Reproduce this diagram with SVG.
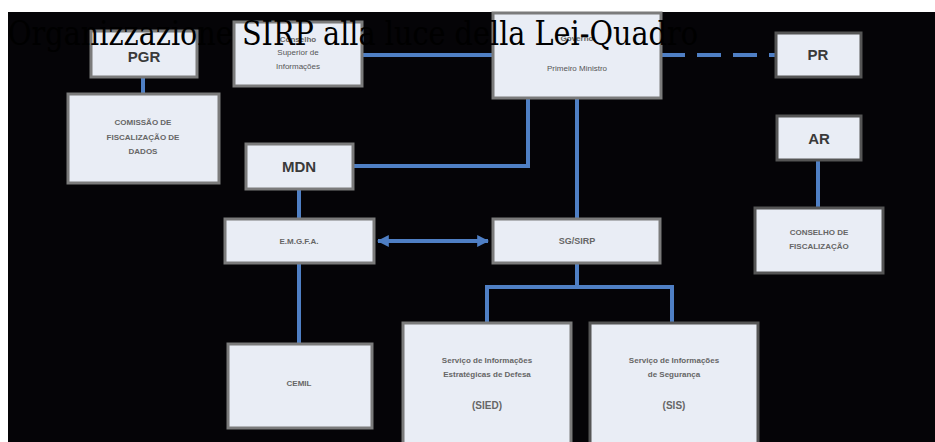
<svg xmlns="http://www.w3.org/2000/svg" width="935" height="442" viewBox="0 0 935 442">
<defs>
<style>
.box{fill:#e9edf5;stroke:#7b7b7b;stroke-width:3}
.boxd{fill:#e9edf5;stroke:#555;stroke-width:3}
.lbl{font-family:"Liberation Sans",Arial,sans-serif;font-size:8px;font-weight:bold;fill:#666;text-anchor:middle}
.big{font-family:"Liberation Sans",Arial,sans-serif;font-size:15px;font-weight:bold;fill:#3a3a3a;text-anchor:middle}
.con{fill:none;stroke:#4f7fc4;stroke-width:4}
.title{font-family:"DejaVu Serif","Liberation Serif",serif;font-size:33px;fill:#000}
</style>
<marker id="ah" viewBox="0 0 10 10" refX="9" refY="5" markerWidth="3" markerHeight="3" orient="auto-start-reverse" markerUnits="strokeWidth">
<path d="M0,0 L10,5 L0,10 z" fill="#4f7fc4"/>
</marker>
</defs>
<rect x="0" y="0" width="935" height="442" fill="#fff"/>
<rect x="8" y="12" width="927" height="430" fill="#050407"/>
<g id="connectors">
<path class="con" d="M143,77 V93"/>
<path class="con" d="M362,55 H492"/>
<path class="con" d="M661,55 H775" stroke-dasharray="24,12"/>
<path class="con" d="M353,166 H528 V98"/>
<path class="con" d="M577,98 V219"/>
<path class="con" d="M299,189 V219"/>
<path class="con" d="M378,241 H488" marker-start="url(#ah)" marker-end="url(#ah)"/>
<path class="con" d="M299,263 V343"/>
<path class="con" d="M577,263 V287 M487,322 V287 H672 V322"/>
<path class="con" d="M818,160 V208"/>
</g>
<g id="pgr"><rect class="box" x="91" y="31" width="106" height="46"/><text class="big" x="144" y="62">PGR</text></g>
<g id="csi"><rect class="box" x="234" y="22" width="128" height="64"/><text class="lbl" x="298" y="42">Conselho</text><text class="lbl" x="298" y="55" style="font-weight:normal;fill:#555">Superior de</text><text class="lbl" x="298" y="69" style="font-weight:normal;fill:#555">Informações</text></g>
<g id="pm"><rect class="box" x="493" y="13" width="168" height="85"/><text class="lbl" x="577" y="41">Governo</text><text class="lbl" x="577" y="71" style="font-weight:normal;fill:#555">Primeiro Ministro</text></g>
<g id="pr"><rect class="boxd" x="776" y="33" width="85" height="44"/><text class="big" x="818" y="60">PR</text></g>
<g id="cfd"><rect class="box" x="68" y="94" width="151" height="89"/><text class="lbl" x="143" y="125">COMISSÃO DE</text><text class="lbl" x="143" y="140">FISCALIZAÇÃO DE</text><text class="lbl" x="143" y="154">DADOS</text></g>
<g id="mdn"><rect class="box" x="246" y="144" width="107" height="45"/><text class="big" x="299" y="172">MDN</text></g>
<g id="ar"><rect class="boxd" x="777" y="116" width="84" height="44"/><text class="big" x="819" y="144">AR</text></g>
<g id="emgfa"><rect class="box" x="225" y="219" width="149" height="44"/><text class="lbl" x="299" y="244">E.M.G.F.A.</text></g>
<g id="sgsirp"><rect class="box" x="493" y="219" width="167" height="44"/><text class="lbl" x="577" y="244" style="font-size:9px">SG/SIRP</text></g>
<g id="cf"><rect class="boxd" x="755" y="208" width="128" height="65"/><text class="lbl" x="819" y="235">CONSELHO DE</text><text class="lbl" x="819" y="249">FISCALIZAÇÃO</text></g>
<g id="cemil"><rect class="box" x="228" y="344" width="144" height="84"/><text class="lbl" x="299" y="386">CEMIL</text></g>
<g id="sied"><rect class="box" x="403" y="323" width="168" height="130"/><text class="lbl" x="487" y="363">Serviço de Informações</text><text class="lbl" x="487" y="377">Estratégicas de Defesa</text><text class="lbl" x="487" y="409" style="font-size:10px">(SIED)</text></g>
<g id="sis"><rect class="boxd" x="590" y="323" width="168" height="130"/><text class="lbl" x="674" y="363">Serviço de Informações</text><text class="lbl" x="674" y="377">de Segurança</text><text class="lbl" x="674" y="409" style="font-size:10px">(SIS)</text></g>
<text class="title" x="8" y="45" textLength="690" lengthAdjust="spacingAndGlyphs">Organizzazione SIRP alla luce della Lei-Quadro</text>
</svg>
